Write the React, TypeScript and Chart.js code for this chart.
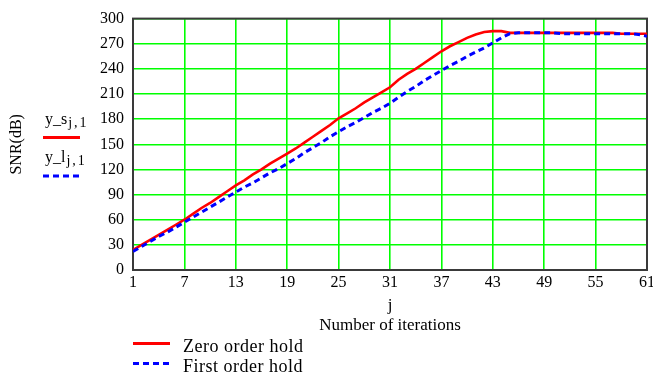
import { useEffect, useRef } from "react";
import { Chart, registerables } from "chart.js";

Chart.register(...registerables);

// ---- data ----
const iterations = [
  1, 2, 3, 4, 5, 6, 7, 8, 9, 10, 11, 12, 13, 14, 15, 16, 17, 18, 19, 20,
  21, 22, 23, 24, 25, 26, 27, 28, 29, 30, 31, 32, 33, 34, 35, 36, 37, 38, 39, 40,
  41, 42, 43, 44, 45, 46, 47, 48, 49, 50, 51, 52, 53, 54, 55, 56, 57, 58, 59, 60, 61,
];
const zeroOrderHold = [
  24, 30, 36, 42, 48, 54, 60, 67, 74, 80, 87, 94, 101, 107, 114, 120, 127, 133, 139, 145,
  152, 159, 166, 173, 181, 187, 193, 200, 206, 212, 218, 227, 234, 240, 247, 254, 261, 267, 272, 277,
  281, 284, 285, 285, 283, 283, 283, 283, 283, 283, 283, 283, 283, 283, 283, 283, 283, 282, 282, 282, 282,
];
const firstOrderHold = [
  22, 28, 34, 40, 45, 51, 57, 63, 69, 75, 81, 87, 93, 99, 104, 110, 116, 121, 127, 133,
  140, 146, 152, 159, 165, 171, 176, 182, 188, 193, 199, 206, 213, 219, 226, 232, 238, 244, 249, 255,
  260, 265, 271, 277, 282, 283, 283, 283, 283, 283, 282, 282, 282, 282, 282, 282, 282, 282, 282, 281, 279,
];
const xTickValues = [1, 7, 13, 19, 25, 31, 37, 43, 49, 55, 61];
const yTickValues = [0, 30, 60, 90, 120, 150, 180, 210, 240, 270, 300];
const seriesNames = ["Zero order hold", "First order hold"];
const traceMain = ["y_s", "y_l"];
const traceSub = ["j,1", "j,1"];
const xTitle = ["j", "Number of iterations"];
const yTitle = "SNR(dB)";

const RED = "#ff0000";
const BLUE = "#0000ff";
const FONT = "'Liberation Serif', 'Times New Roman', serif";

const framePlugin = {
  id: "frame",
  beforeDatasetsDraw(chart: any) {
    const { ctx, chartArea } = chart;
    ctx.save();
    ctx.strokeStyle = "#3a3a3a";
    ctx.lineWidth = 2;
    ctx.strokeRect(chartArea.left, chartArea.top, chartArea.right - chartArea.left, chartArea.bottom - chartArea.top);
    ctx.restore();
  },
};

const notesPlugin = {
  id: "notes",
  afterDraw(chart: any) {
    const { ctx } = chart;
    ctx.save();
    ctx.fillStyle = "#000";
    ctx.textBaseline = "alphabetic";
    // trace names on the left
    const rows = [
      { base: 124, lineY: 137.5, color: RED, dash: [] as number[] },
      { base: 162, lineY: 176, color: BLUE, dash: [6, 4] },
    ];
    rows.forEach((r, i) => {
      ctx.font = `16px ${FONT}`;
      (ctx as any).letterSpacing = "0px";
      ctx.fillText(traceMain[i], 45, r.base);
      const w = ctx.measureText(traceMain[i]).width;
      ctx.font = `14px ${FONT}`;
      (ctx as any).letterSpacing = "2px";
      ctx.fillText(traceSub[i], 45 + w + 1, r.base + 3);
      (ctx as any).letterSpacing = "0px";
      ctx.strokeStyle = r.color;
      ctx.lineWidth = 3;
      ctx.setLineDash(r.dash);
      ctx.beginPath();
      ctx.moveTo(43, r.lineY);
      ctx.lineTo(80, r.lineY);
      ctx.stroke();
      ctx.setLineDash([]);
    });
    // bottom legend
    const leg = [
      { lineY: 343.5, base: 351.5, color: RED, dash: [] as number[] },
      { lineY: 363.5, base: 371.5, color: BLUE, dash: [6, 4] },
    ];
    leg.forEach((r, i) => {
      ctx.strokeStyle = r.color;
      ctx.lineWidth = 3;
      ctx.setLineDash(r.dash);
      ctx.beginPath();
      ctx.moveTo(133, r.lineY);
      ctx.lineTo(170, r.lineY);
      ctx.stroke();
      ctx.setLineDash([]);
      ctx.fillStyle = "#000";
      ctx.font = `18px ${FONT}`;
      (ctx as any).letterSpacing = "0.5px";
      ctx.fillText(seriesNames[i], 183, r.base);
      (ctx as any).letterSpacing = "0px";
    });
    ctx.restore();
  },
};

export default function App() {
  const ref = useRef<HTMLCanvasElement | null>(null);
  useEffect(() => {
    if (!ref.current) return;
    Chart.defaults.font.family = FONT;
    const chart = new Chart(ref.current, {
      type: "line",
      data: {
        datasets: [
          {
            label: seriesNames[0],
            data: iterations.map((j, i) => ({ x: j, y: zeroOrderHold[i] })),
            borderColor: RED,
            borderWidth: 2.6,
            pointRadius: 0,
            tension: 0,
            order: 1,
          },
          {
            label: seriesNames[1],
            data: iterations.map((j, i) => ({ x: j, y: firstOrderHold[i] })),
            borderColor: BLUE,
            borderWidth: 3,
            borderDash: [6, 4],
            pointRadius: 0,
            tension: 0,
            order: 0,
          },
        ],
      },
      options: {
        animation: false,
        responsive: false,
        events: [],
        layout: { padding: { left: 0, top: 14, right: 33, bottom: 0 } },
        plugins: { legend: { display: false }, tooltip: { enabled: false } },
        scales: {
          x: {
            type: "linear",
            min: 1,
            max: 61,
            afterBuildTicks: (s: any) => {
              s.ticks = xTickValues.map((v) => ({ value: v }));
            },
            afterFit: (s: any) => {
              s.height = 105;
            },
            grid: { color: "#00ff00", lineWidth: 1.6, drawTicks: false },
            border: { display: false },
            ticks: { color: "#000", font: { size: 16, family: FONT }, padding: 3, maxRotation: 0, autoSkip: false },
            title: {
              display: true,
              text: xTitle,
              color: "#000",
              font: { size: 17, family: FONT, lineHeight: 1.18 },
              padding: { top: 0, bottom: 39 },
            },
          },
          y: {
            type: "linear",
            min: 0,
            max: 300,
            afterBuildTicks: (s: any) => {
              s.ticks = yTickValues.map((v) => ({ value: v }));
            },
            afterFit: (s: any) => {
              s.width = 133;
            },
            grid: { color: "#00ff00", lineWidth: 1.6, drawTicks: false },
            border: { display: false },
            ticks: { color: "#000", font: { size: 16, family: FONT }, padding: 9, autoSkip: false },
            title: {
              display: true,
              text: yTitle,
              color: "#000",
              font: { size: 16, family: FONT },
              padding: { top: 7, bottom: 0 },
            },
          },
        },
      },
      plugins: [framePlugin, notesPlugin],
    });
    return () => chart.destroy();
  }, []);
  return (
    <div style={{ position: "fixed", left: 0, top: 0, width: 653, height: 375, overflow: "hidden", background: "#fff" }}>
      <canvas ref={ref} width={680} height={375} style={{ display: "block" }} />
    </div>
  );
}
